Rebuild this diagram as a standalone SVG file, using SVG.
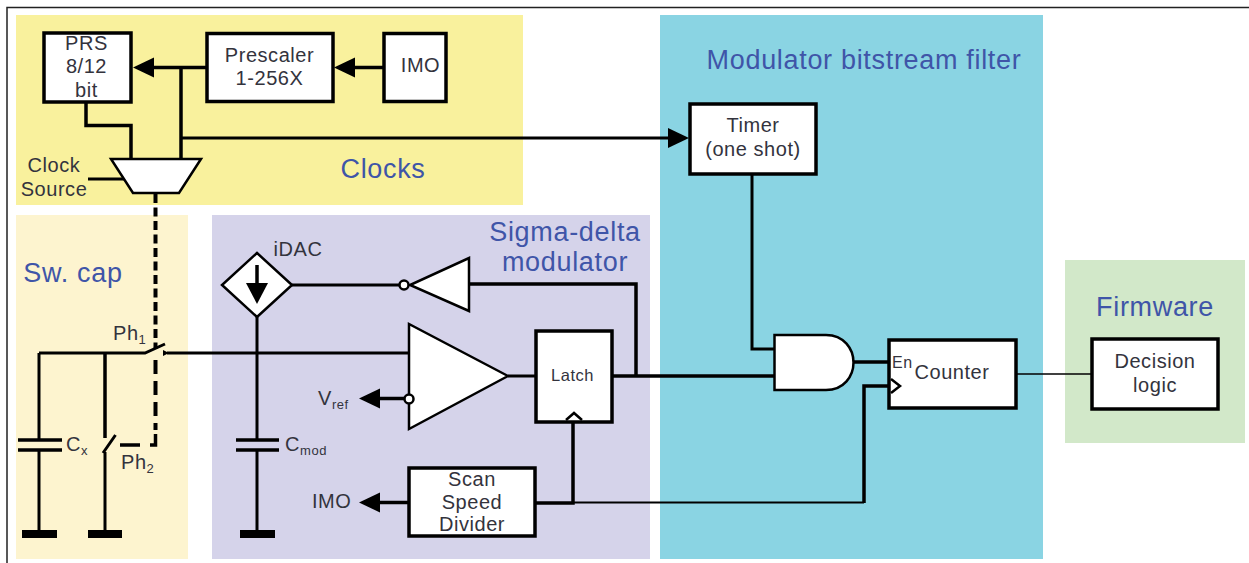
<svg xmlns="http://www.w3.org/2000/svg" width="1249" height="563" viewBox="0 0 1249 563">
<defs>
<marker id="ah" markerUnits="userSpaceOnUse" markerWidth="21" markerHeight="20" refX="16" refY="10" orient="auto" overflow="visible"><path d="M0 0L21 10L0 20Z" fill="#000"/></marker>
</defs>
<style>
text{font-family:"Liberation Sans",Arial,sans-serif;fill:#33333d;letter-spacing:.55px}
.t{font-size:20px;text-anchor:middle}
.l{font-size:20px}
.h{font-size:27px;fill:#3f55a8;text-anchor:middle;letter-spacing:.68px}
.b{fill:#fff;stroke:#000;stroke-width:3.5}
.g{fill:#fff;stroke:#000;stroke-width:2.5;stroke-linejoin:miter}
.w{fill:none;stroke:#000;stroke-width:3.5}
.w3{fill:none;stroke:#000;stroke-width:3}
.a{marker-end:url(#ah)}
.d{fill:none;stroke:#000;stroke-width:4;stroke-dasharray:9 4.500}
.d2{fill:none;stroke:#000;stroke-width:4;stroke-dasharray:14 7}
.bar{fill:#000}
.s{font-size:13px}
</style>
<rect width="1249" height="563" fill="#fff"/>
<path d="M7 563V7.500H1249" fill="none" stroke="#222" stroke-width="1.500"/>
<g id="regions">
<rect x="16" y="15" width="507" height="190" fill="#f9f19d"/>
<rect x="16" y="215" width="172" height="344" fill="#fdf4cf"/>
<rect x="212" y="215" width="438" height="344" fill="#d5d3ea"/>
<rect x="660" y="15" width="383" height="544" fill="#8ad4e3"/>
<rect x="1065" y="260" width="180" height="183" fill="#d2e8c9"/>
<text class="h" x="383" y="178">Clocks</text>
<text class="h" x="73" y="282">Sw. cap</text>
<text class="h" x="565" y="241">Sigma-delta</text>
<text class="h" x="565" y="271">modulator</text>
<text class="h" x="864" y="69">Modulator bitstream filter</text>
<text class="h" x="1155" y="316">Firmware</text>
</g>
<g id="connectors">
<path class="w a" d="M206 67.500H138"/>
<path class="w a" d="M384 67.500H339"/>
<path class="w" d="M181 67.500V160"/>
<path class="w3 a" d="M181 138H684"/>
<path class="w" d="M86 102V125.500H131V160"/>
<path class="w3" d="M88 179H124"/>
<path class="d" d="M155.500 194V349"/>
<path class="d2" d="M155.500 360V430"/>
<path class="w" d="M120 445H140M150 445H155.500V434"/>
<path class="w3" d="M39 353H145L165 344"/>
<path class="w" d="M105 353V438"/>
<path class="w3" d="M103 453L115.500 435M105 452V531"/>
<path class="w3" d="M39 353V441M39 450V531"/>
<path class="w" d="M18 440H62M18 450H62"/>
<path class="w3" d="M257 317V441M257 450V531"/>
<path class="w" d="M236 440H279M236 450H279"/>
<path class="w3" d="M167 353H409"/>
<path d="M163 350L169 353L163 356Z"/>
<path class="w a" d="M405 398.500H364"/>
<path class="w3" d="M508 376H536"/>
<path class="w" d="M612 376H775"/>
<path class="w" d="M636 376V284H468"/>
<path class="w3" d="M292 285H400"/>
<path class="w a" d="M409 502.500H364"/>
<path class="w" d="M535 503H573V420"/>
<path d="M573 502.500H864" fill="none" stroke="#000" stroke-width="2"/>
<path class="w" d="M864 503V386H890"/>
<path class="w3" d="M752 175V349H775"/>
<path class="w" d="M853 362H890"/>
<path d="M1016 374H1092" fill="none" stroke="#000" stroke-width="1.300"/>
</g>
<g id="grounds">
<rect class="bar" x="22" y="530" width="35" height="8"/>
<rect class="bar" x="88" y="530" width="34" height="8"/>
<rect class="bar" x="240" y="530" width="35" height="8"/>
</g>
<g id="prs"><rect class="b" x="44" y="33" width="87" height="69"/><text class="t" x="86.500" y="50">PRS</text><text class="t" x="86.500" y="73">8/12</text><text class="t" x="86.500" y="97">bit</text></g>
<g id="prescaler"><rect class="b" x="207" y="33.500" width="126" height="68"/><text class="t" x="269.500" y="62">Prescaler</text><text class="t" x="269.500" y="85">1-256X</text></g>
<g id="imo"><rect class="b" x="384" y="33.500" width="62" height="68"/><text class="t" x="420.500" y="72">IMO</text></g>
<g id="clock-mux"><path class="g" d="M111 159H201L179 193H133Z"/><text class="t" x="54" y="172">Clock</text><text class="t" x="54" y="196">Source</text></g>
<g id="timer"><rect class="b" x="690" y="104" width="126" height="70"/><text class="t" x="753" y="132">Timer</text><text class="t" x="753" y="156">(one shot)</text></g>
<g id="idac"><path class="g" d="M257 253L292 285L257 317L222 285Z"/><path class="w" d="M257 265V285"/><path d="M257 304L246 283H268Z"/><text class="t" x="298" y="256">iDAC</text></g>
<g id="inverter"><path class="g" d="M469 258V311L410 285Z"/><circle class="g" cx="404" cy="285" r="4.500"/></g>
<g id="comparator"><path class="g" d="M409 324V429L508 376Z"/><circle class="g" cx="409" cy="399" r="4.500"/></g>
<g id="latch"><rect class="b" x="536" y="331" width="76" height="91"/><path class="g" d="M566 420L574 413L582 420" stroke-width="2"/><text x="572.500" y="381" font-size="16.500" text-anchor="middle">Latch</text></g>
<g id="scan-divider"><rect class="b" x="409" y="468" width="126" height="68"/><text class="t" x="472" y="486">Scan</text><text class="t" x="472" y="509">Speed</text><text class="t" x="472" y="531">Divider</text></g>
<g id="and-gate"><path class="g" d="M774.500 335H826C844 335 853.500 349 853.500 362.500C853.500 376 844 390 826 390H774.500Z"/></g>
<g id="counter"><rect class="b" x="889" y="340" width="127" height="68"/><path class="g" d="M891 379L900 386L891 393" stroke-width="2.500"/><text x="892" y="368" font-size="16">En</text><text class="t" x="952" y="379">Counter</text></g>
<g id="decision"><rect class="b" x="1092" y="339" width="126" height="70"/><text class="t" x="1155" y="368">Decision</text><text class="t" x="1155" y="392">logic</text></g>
<g id="labels">
<text class="l" x="113" y="340">Ph<tspan class="s" dy="4">1</tspan></text>
<text class="l" x="121" y="469">Ph<tspan class="s" dy="4">2</tspan></text>
<text class="l" x="66" y="451">C<tspan class="s" dy="4">x</tspan></text>
<text class="l" x="285" y="451">C<tspan class="s" dy="4">mod</tspan></text>
<text class="l" x="318" y="405">V<tspan class="s" dy="4">ref</tspan></text>
<text class="l" x="312" y="508">IMO</text>
</g>
</svg>
